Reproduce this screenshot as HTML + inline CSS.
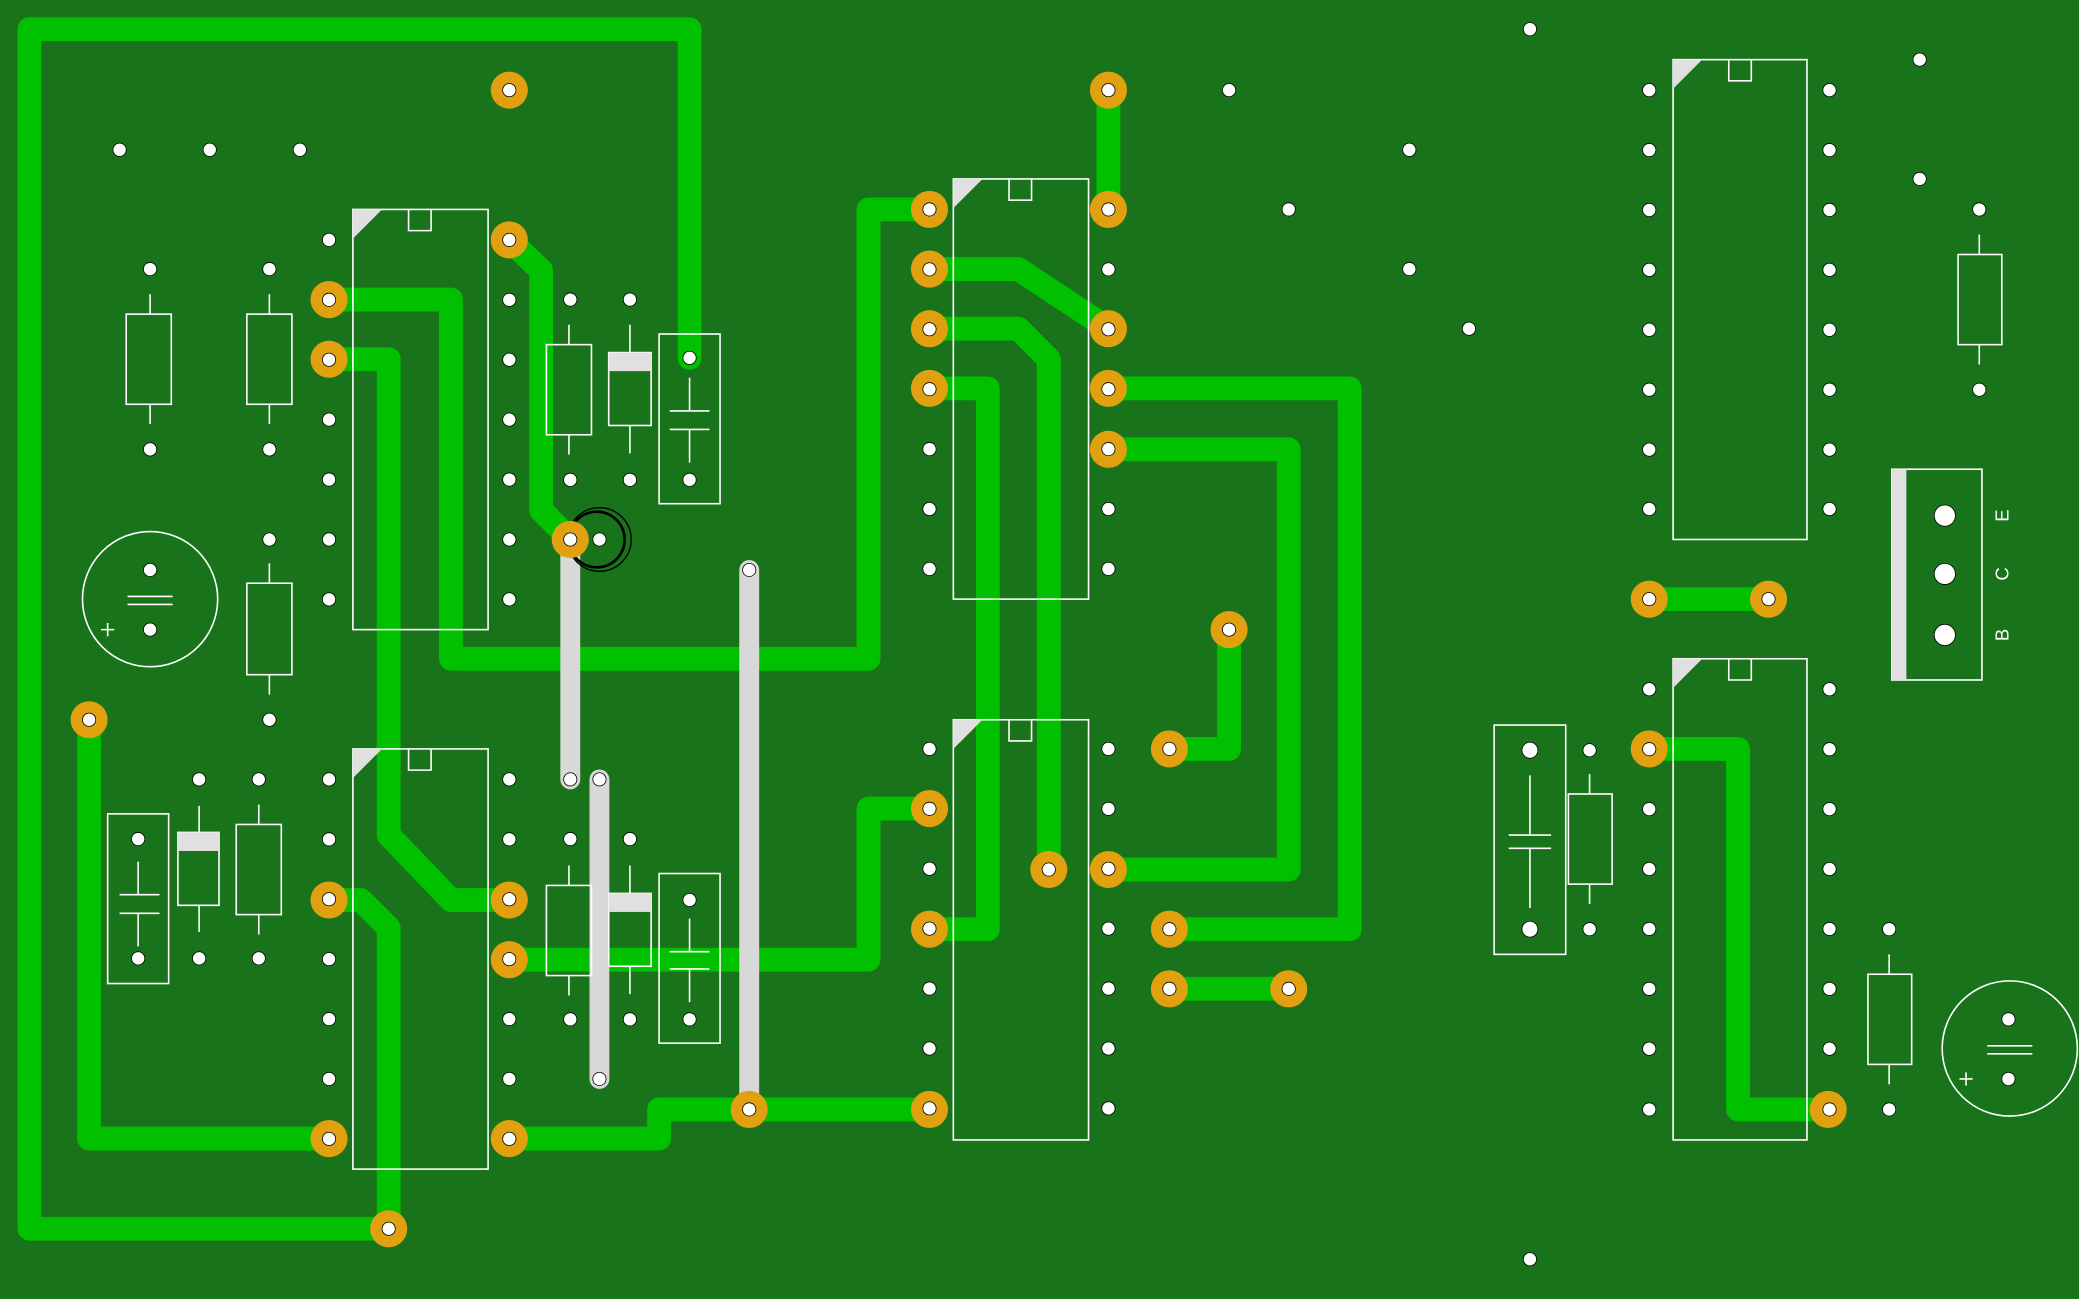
<!DOCTYPE html>
<html><head><meta charset="utf-8"><style>html,body{margin:0;padding:0;background:#19731a}svg{display:block}</style></head><body>
<svg width="2079" height="1299" viewBox="0 0 1568 980" xmlns="http://www.w3.org/2000/svg">
<defs>
<g id="p1"><circle cx="0" cy="0" r="5"/><circle cx="0" cy="45.2" r="5"/><circle cx="0" cy="90.4" r="5"/><circle cx="0" cy="135.6" r="5"/><circle cx="0" cy="180.8" r="5"/><circle cx="0" cy="226" r="5"/><circle cx="0" cy="271.2" r="5"/></g>
</defs>
<rect width="1568" height="980" fill="#19731a"/>
<g fill="none" stroke="#00c000" stroke-width="18" stroke-linejoin="round" stroke-linecap="round">
<polyline points="293,927 22,927 22,22 520,22 520,270"/>
<polyline points="67,543 67,859 248,859"/>
<polyline points="248,226 340,226 340,497 655,497 655,158 701,158"/>
<polyline points="248,271 293,271 293,630 340,679 384,679"/>
<polyline points="248,679 272,679 293,700 293,927"/>
<polyline points="384,181 408,204 408,385 430,407"/>
<polyline points="384,724 655,724 655,610 701,610"/>
<polyline points="384,859 497,859 497,837 701,837"/>
<polyline points="836,68 836,158"/>
<polyline points="701,203 768,203 836,248"/>
<polyline points="701,248 768,248 791,271 791,656"/>
<polyline points="701,293 745,293 745,701 701,701"/>
<polyline points="836,293 1018,293 1018,701 882,701"/>
<polyline points="836,339 972,339 972,656 836,656"/>
<polyline points="927,475 927,565 882,565"/>
<polyline points="882,746 972,746"/>
<polyline points="1244,452 1334,452"/>
<polyline points="1244,565 1311,565 1311,837 1379,837"/>
</g>
<g fill="none" stroke="#d8d8d8" stroke-width="15" stroke-linecap="round">
<line x1="430" y1="407" x2="430" y2="588"/>
<line x1="452" y1="588" x2="452" y2="814"/>
<line x1="565" y1="430" x2="565" y2="837"/>
</g>
<g fill="none" stroke="#fff" stroke-width="1.2">
<rect x="266" y="158" width="102" height="317"/><rect x="266" y="565" width="102" height="317"/>
<rect x="719" y="135" width="102" height="317"/><rect x="719" y="543" width="102" height="317"/>
<rect x="1262" y="45" width="101" height="362"/><rect x="1262" y="497" width="101" height="363"/>
<path d="M308,158v16h17v-16M308,565v16h17v-16M761,135v16h17v-16M761,543v16h17v-16M1304,45v16h17v-16M1304,497v16h17v-16"/>
<rect x="95" y="237" width="34" height="68"/><path d="M113,222v15M113,305v15"/>
<rect x="186" y="237" width="34" height="68"/><path d="M203,222v15M203,305v15"/>
<rect x="186" y="440" width="34" height="69"/><path d="M203,425v15M203,509v15"/>
<rect x="412" y="260" width="34" height="68"/><path d="M429,245v15M429,328v15"/>
<rect x="459" y="266" width="32" height="55"/><path d="M475,245v21M475,321v21"/>
<rect x="497" y="252" width="46" height="128"/><path d="M520,285v25M520,324v25M505,310h30M505,324h30"/>
<rect x="81" y="614" width="46" height="128"/><path d="M104,650v25M104,689v25M90,675h30M90,689h30"/>
<rect x="134" y="628" width="31" height="55"/><path d="M150,608v20M150,683v20"/>
<rect x="178" y="622" width="34" height="68"/><path d="M195,607v15M195,690v15"/>
<rect x="412" y="668" width="34" height="68"/><path d="M429,653v15M429,736v15"/>
<rect x="459" y="674" width="32" height="55"/><path d="M475,653v21M475,729v21"/>
<rect x="497" y="659" width="46" height="128"/><path d="M520,693v25M520,731v25M505,718h30M505,731h30"/>
<rect x="1127" y="547" width="54" height="173"/><path d="M1154,585v45M1154,640v45M1138,630h32M1138,640h32"/>
<rect x="1183" y="599" width="33" height="68"/><path d="M1199,584v15M1199,667v15"/>
<rect x="1477" y="192" width="33" height="68"/><path d="M1493,177v15M1493,260v15"/>
<rect x="1409" y="735" width="33" height="68"/><path d="M1425,720v15M1425,803v15"/>
<circle cx="113" cy="452" r="51"/><path d="M96,450h34M96,456h34M76,475h10M81,470v10"/>
<circle cx="1516" cy="791" r="51"/><path d="M1499,789h34M1499,795h34M1478,814h10M1483,809v10"/>
<rect x="1427" y="354" width="68" height="159"/>
<circle cx="450" cy="407" r="21" stroke="#000" stroke-width="2"/><circle cx="452" cy="407" r="24" stroke="#000" stroke-width="1"/>
</g>
<g fill="#e0e0e0">
<rect x="459" y="266" width="32" height="14"/><rect x="134" y="628" width="31" height="14"/><rect x="459" y="674" width="32" height="14"/>
<rect x="1427" y="354" width="11" height="159"/>
<path d="M266,158h22l-22,22zM266,565h22l-22,22zM719,135h22l-22,22zM719,543h22l-22,22zM1262,45h22l-22,22zM1262,497h22l-22,22z"/>
</g>
<g fill="#e0a010">
<circle cx="384" cy="68" r="14"/><circle cx="384" cy="181" r="14"/><circle cx="248" cy="226" r="14"/><circle cx="248" cy="271" r="14"/><circle cx="430" cy="407" r="14"/>
<circle cx="67" cy="543" r="14"/><circle cx="248" cy="679" r="14"/><circle cx="384" cy="679" r="14"/><circle cx="384" cy="724" r="14"/><circle cx="248" cy="859" r="14"/><circle cx="384" cy="859" r="14"/><circle cx="293" cy="927" r="14"/>
<circle cx="836" cy="68" r="14"/><circle cx="701" cy="158" r="14"/><circle cx="836" cy="158" r="14"/><circle cx="701" cy="203" r="14"/><circle cx="836" cy="248" r="14"/><circle cx="701" cy="248" r="14"/><circle cx="701" cy="293" r="14"/><circle cx="836" cy="293" r="14"/><circle cx="836" cy="339" r="14"/>
<circle cx="927" cy="475" r="14"/><circle cx="882" cy="565" r="14"/><circle cx="701" cy="610" r="14"/><circle cx="791" cy="656" r="14"/><circle cx="836" cy="656" r="14"/><circle cx="701" cy="701" r="14"/><circle cx="882" cy="701" r="14"/><circle cx="882" cy="746" r="14"/><circle cx="972" cy="746" r="14"/><circle cx="701" cy="837" r="14"/><circle cx="565" cy="837" r="14"/>
<circle cx="1244" cy="452" r="14"/><circle cx="1334" cy="452" r="14"/><circle cx="1244" cy="565" r="14"/><circle cx="1379" cy="837" r="14"/>
</g>
<g fill="#fff" stroke="#000" stroke-width="0.6">
<circle cx="384" cy="68" r="5"/><circle cx="836" cy="68" r="5"/><circle cx="520" cy="270" r="5"/>
<circle cx="67" cy="543" r="5"/><circle cx="293" cy="927" r="5"/><circle cx="1244" cy="452" r="5"/>
<circle cx="90" cy="113" r="5"/><circle cx="158" cy="113" r="5"/><circle cx="226" cy="113" r="5"/><circle cx="113" cy="203" r="5"/><circle cx="203" cy="203" r="5"/><circle cx="113" cy="339" r="5"/><circle cx="203" cy="339" r="5"/><circle cx="203" cy="407" r="5"/><circle cx="113" cy="430" r="5"/><circle cx="113" cy="475" r="5"/><circle cx="203" cy="543" r="5"/>
<circle cx="430" cy="226" r="5"/><circle cx="475" cy="226" r="5"/><circle cx="430" cy="362" r="5"/><circle cx="475" cy="362" r="5"/><circle cx="520" cy="362" r="5"/><circle cx="452" cy="407" r="5"/><circle cx="430" cy="407" r="5"/>
<circle cx="150" cy="588" r="5"/><circle cx="195" cy="588" r="5"/><circle cx="104" cy="633" r="5"/><circle cx="104" cy="723" r="5"/><circle cx="150" cy="723" r="5"/><circle cx="195" cy="723" r="5"/>
<circle cx="430" cy="633" r="5"/><circle cx="475" cy="633" r="5"/><circle cx="520" cy="679" r="5"/><circle cx="430" cy="769" r="5"/><circle cx="475" cy="769" r="5"/><circle cx="520" cy="769" r="5"/>
<circle cx="927" cy="68" r="5"/><circle cx="1154" cy="22" r="5"/><circle cx="1063" cy="113" r="5"/><circle cx="972" cy="158" r="5"/><circle cx="1063" cy="203" r="5"/><circle cx="1108" cy="248" r="5"/>
<circle cx="1448" cy="45" r="5"/><circle cx="1448" cy="135" r="5"/><circle cx="1493" cy="158" r="5"/><circle cx="1493" cy="294" r="5"/>
<circle cx="1154" cy="566" r="6"/><circle cx="1199" cy="566" r="5"/><circle cx="1154" cy="701" r="6"/><circle cx="1199" cy="701" r="5"/><circle cx="1425" cy="701" r="5"/><circle cx="1425" cy="837" r="5"/><circle cx="1515" cy="769" r="5"/><circle cx="1515" cy="814" r="5"/><circle cx="1154" cy="950" r="5"/>
<circle cx="565" cy="430" r="5"/><circle cx="430" cy="588" r="5"/><circle cx="452" cy="588" r="5"/><circle cx="452" cy="814" r="5"/><circle cx="565" cy="837" r="5"/>
<circle cx="1467" cy="389" r="8"/><circle cx="1467" cy="433" r="8"/><circle cx="1467" cy="479" r="8"/>
<circle cx="791" cy="656" r="5"/><circle cx="927" cy="475" r="5"/><circle cx="882" cy="565" r="5"/><circle cx="882" cy="701" r="5"/><circle cx="882" cy="746" r="5"/><circle cx="972" cy="746" r="5"/><circle cx="1334" cy="452" r="5"/>
<use href="#p1" x="248" y="181"/><use href="#p1" x="384" y="181"/>
<use href="#p1" x="248" y="588"/><use href="#p1" x="384" y="588"/>
<use href="#p1" x="701" y="158"/><use href="#p1" x="836" y="158"/>
<use href="#p1" x="701" y="565"/><use href="#p1" x="836" y="565"/>
<use href="#p1" x="1244" y="68"/><use href="#p1" x="1380" y="68"/><circle cx="1244" cy="384" r="5"/><circle cx="1380" cy="384" r="5"/>
<use href="#p1" x="1244" y="520"/><use href="#p1" x="1380" y="520"/><circle cx="1244" cy="837" r="5"/><circle cx="1380" cy="837" r="5"/>
</g>
<g fill="#fff" font-family="Liberation Sans, sans-serif" font-size="14">
<text transform="translate(1515,389) rotate(-90)" text-anchor="middle">E</text>
<text transform="translate(1515,433) rotate(-90)" text-anchor="middle">C</text>
<text transform="translate(1515,479) rotate(-90)" text-anchor="middle">B</text>
</g>
</svg>
</body></html>
